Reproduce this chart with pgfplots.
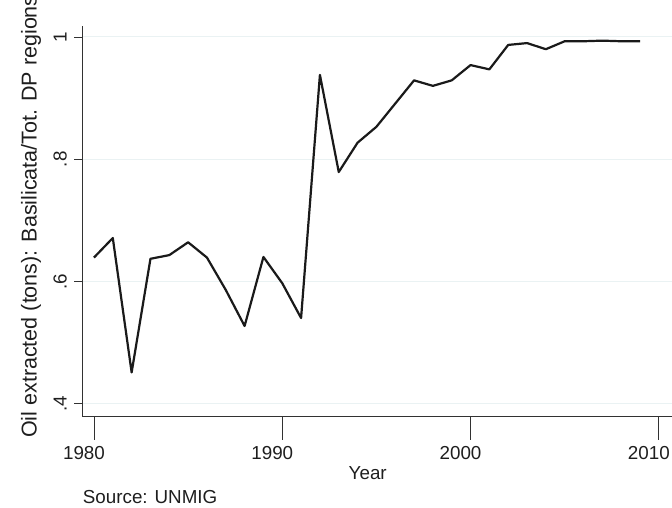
\documentclass[border=0pt]{standalone}
\usepackage{fontspec}
\setmainfont{Liberation Sans}
\usepackage{pgfplots}
\pgfplotsset{compat=1.18}
\definecolor{gridc}{RGB}{234,242,243}
\definecolor{linec}{RGB}{26,26,26}
\definecolor{axc}{RGB}{50,50,50}
\definecolor{txt}{RGB}{30,30,30}
\begin{document}
\begin{tikzpicture}[x=1bp,y=1bp]
\useasboundingbox (0,0) rectangle (672,508);
\clip (0,0) rectangle (672,508);
\begin{axis}[
  at={(82.3bp,92bp)}, anchor=south west,
  scale only axis, width=589.7bp, height=390bp,
  xmin=1979.38, xmax=2010.7, ymin=0.3797, ymax=1.018,
  axis x line*=bottom, axis y line*=left,
  axis line style={axc, line width=0.9bp, -},
  xtick={1980,1990,2000,2010}, xticklabels={1980,1990,2000,2010},
  ytick={0.4,0.6,0.8,1}, yticklabels={.4,.6,.8,1},
  tick align=outside,
  major tick length=8bp,
  xtick style={/pgfplots/major tick length=24bp},
  tick style={axc, line width=0.9bp},
  minor tick num=0,
  ymajorgrids, grid style={gridc, line width=1bp},
  ticklabel style={font=\fontsize{18.8bp}{22bp}\selectfont, text=txt},
  xticklabel style={anchor=north, inner sep=0pt, xshift=-10bp},
  yticklabel style={rotate=90, anchor=base, inner sep=0pt},
  xticklabel shift=21.7bp,
  yticklabel shift=7.6bp,
  xlabel={Year},
  xlabel style={at={(rel axis cs:0.484,-0.1641)}, anchor=base, inner sep=0pt,
    font=\fontsize{18.8bp}{22bp}\selectfont, text=txt},
  ylabel={Oil extracted (tons): Basilicata/Tot. DP regions},
  ylabel style={at={(rel axis cs:-0.0773,-0.0564)}, anchor=base west, inner sep=0pt,
    font=\fontsize{21.5bp}{26bp}\selectfont, text=txt},
]
\addplot[linec, line width=2.2bp, line join=round, mark=none] table {
1980 0.639
1981 0.671
1982 0.451
1983 0.637
1984 0.643
1985 0.664
1986 0.639
1987 0.586
1988 0.527
1989 0.640
1990 0.597
1991 0.540
1992 0.938
1993 0.779
1994 0.827
1995 0.853
1996 0.891
1997 0.929
1998 0.920
1999 0.929
2000 0.954
2001 0.947
2002 0.987
2003 0.990
2004 0.980
2005 0.993
2006 0.993
2007 0.994
2008 0.993
2009 0.993
};
\end{axis}
\node[anchor=base west, inner sep=0pt, text=txt, font=\fontsize{18.8bp}{22bp}\selectfont] at (82.7,4.5) {Source: UNMIG};
\end{tikzpicture}
\end{document}
